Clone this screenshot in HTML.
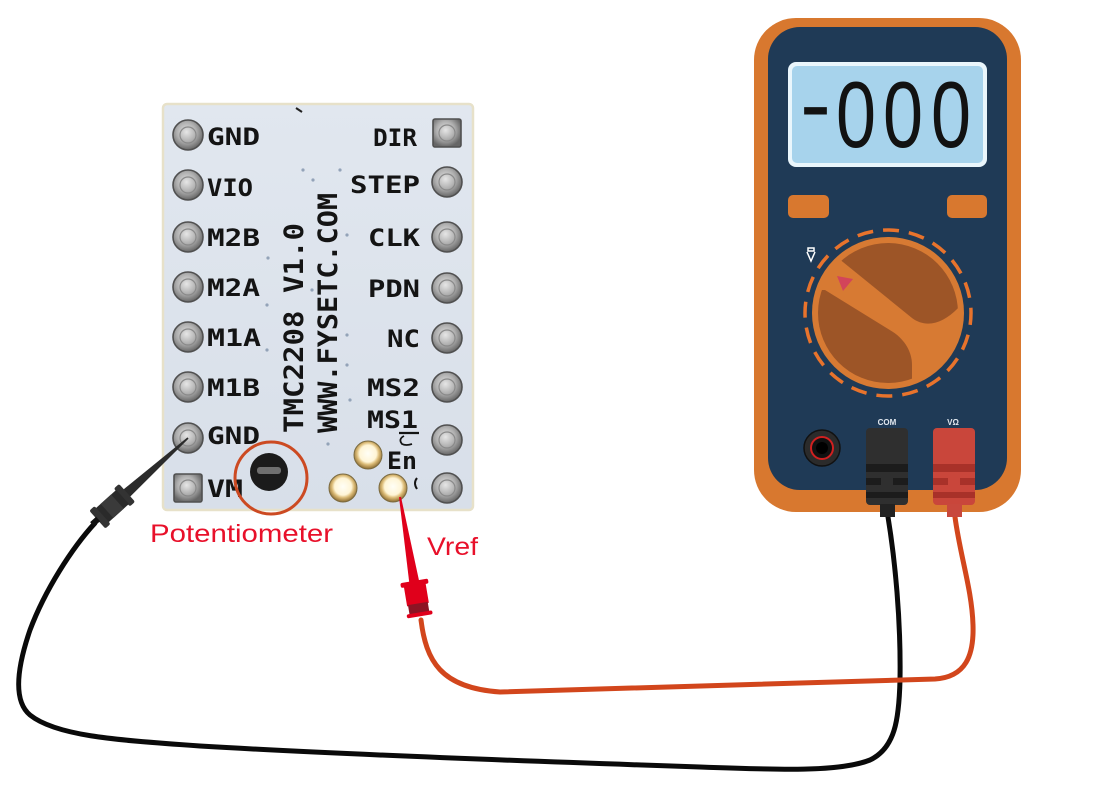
<!DOCTYPE html>
<html>
<head>
<meta charset="utf-8">
<style>
  html,body{margin:0;padding:0;background:#ffffff;}
  svg{display:block;}
  .silk{font-family:"DejaVu Sans Mono","Liberation Mono",monospace;font-weight:bold;fill:#141414;}
  .lbl{font-family:"Liberation Sans",sans-serif;fill:#e8102a;}
  .lcd{font-family:"Liberation Sans",sans-serif;fill:#121212;}
</style>
</head>
<body>
<svg width="1098" height="788" viewBox="0 0 1098 788" xmlns="http://www.w3.org/2000/svg">
  <defs>
    <radialGradient id="sv" cx="45%" cy="40%" r="60%">
      <stop offset="0" stop-color="#e6e6e6"/>
      <stop offset="0.55" stop-color="#aeaeae"/>
      <stop offset="1" stop-color="#666666"/>
    </radialGradient>
    <radialGradient id="gd" cx="50%" cy="45%" r="55%">
      <stop offset="0" stop-color="#fffef6"/>
      <stop offset="0.55" stop-color="#fff5d6"/>
      <stop offset="0.72" stop-color="#dcbc78"/>
      <stop offset="1" stop-color="#8a6a30"/>
    </radialGradient>
    <linearGradient id="brd" x1="0" y1="0" x2="0" y2="1">
      <stop offset="0" stop-color="#e1e7ef"/>
      <stop offset="1" stop-color="#d8dfe9"/>
    </linearGradient>
    <clipPath id="kc"><circle cx="888" cy="313" r="70"/></clipPath>
  </defs>

  <!-- ============ WIRES ============ -->
  <path d="M95,523 C72,548 45,590 30,630 C18,665 12,700 30,715 C55,735 110,740 200,746 C350,755 550,762 700,767 C780,770 840,772 870,760 C895,748 899,720 900,680 C901,620 895,560 888,517"
        fill="none" stroke="#0a0a0a" stroke-width="5" stroke-linecap="round"/>
  <path d="M421,620 C426,660 440,688 500,692 L935,679 C966,677 974,655 973,625 C972,590 960,555 955,517"
        fill="none" stroke="#d2461c" stroke-width="5" stroke-linecap="round"/>

  <!-- ============ BOARD ============ -->
  <rect x="163" y="104" width="310" height="406" rx="4" fill="url(#brd)" stroke="#e7e1c9" stroke-width="2.5"/>

  <!-- vias -->
  <g fill="#93a3b8">
    <circle cx="303" cy="170" r="1.6"/><circle cx="313" cy="180" r="1.6"/>
    <circle cx="340" cy="170" r="1.6"/><circle cx="268" cy="258" r="1.6"/>
    <circle cx="347" cy="235" r="1.6"/><circle cx="267" cy="305" r="1.6"/>
    <circle cx="347" cy="335" r="1.6"/><circle cx="267" cy="350" r="1.6"/>
    <circle cx="347" cy="365" r="1.6"/><circle cx="350" cy="400" r="1.6"/>
    <circle cx="312" cy="290" r="1.6"/><circle cx="328" cy="444" r="1.6"/>
  </g>
  <path d="M296,108 l6,4" stroke="#222" stroke-width="2"/>

  <!-- left pins -->
  <g stroke="#505050" stroke-width="1.6">
    <circle cx="188" cy="135" r="15" fill="url(#sv)"/>
    <circle cx="188" cy="185" r="15" fill="url(#sv)"/>
    <circle cx="188" cy="237" r="15" fill="url(#sv)"/>
    <circle cx="188" cy="287" r="15" fill="url(#sv)"/>
    <circle cx="188" cy="337" r="15" fill="url(#sv)"/>
    <circle cx="188" cy="387" r="15" fill="url(#sv)"/>
    <circle cx="188" cy="438" r="15" fill="url(#sv)"/>
    <rect x="174" y="474" width="28" height="28" rx="2" fill="url(#sv)"/>
  </g>
  <!-- right pins -->
  <g stroke="#505050" stroke-width="1.6">
    <rect x="433" y="119" width="28" height="28" rx="2" fill="url(#sv)"/>
    <circle cx="447" cy="182" r="15" fill="url(#sv)"/>
    <circle cx="447" cy="237" r="15" fill="url(#sv)"/>
    <circle cx="447" cy="288" r="15" fill="url(#sv)"/>
    <circle cx="447" cy="338" r="15" fill="url(#sv)"/>
    <circle cx="447" cy="387" r="15" fill="url(#sv)"/>
    <circle cx="447" cy="440" r="15" fill="url(#sv)"/>
    <circle cx="447" cy="488" r="15" fill="url(#sv)"/>
  </g>
  <g fill="none" stroke="#8a8a8a" stroke-width="1.2">
    <circle cx="188" cy="135" r="8"/><circle cx="188" cy="185" r="8"/>
    <circle cx="188" cy="237" r="8"/><circle cx="188" cy="287" r="8"/>
    <circle cx="188" cy="337" r="8"/><circle cx="188" cy="387" r="8"/>
    <circle cx="188" cy="438" r="8"/><circle cx="188" cy="488" r="8"/>
    <circle cx="447" cy="133" r="8"/><circle cx="447" cy="182" r="8"/>
    <circle cx="447" cy="237" r="8"/><circle cx="447" cy="288" r="8"/>
    <circle cx="447" cy="338" r="8"/><circle cx="447" cy="387" r="8"/>
    <circle cx="447" cy="440" r="8"/><circle cx="447" cy="488" r="8"/>
  </g>

  <!-- left labels -->
  <g class="silk" font-size="24">
    <text x="207" y="145" textLength="53" lengthAdjust="spacingAndGlyphs">GND</text>
    <text x="207" y="196" textLength="46" lengthAdjust="spacingAndGlyphs">VIO</text>
    <text x="207" y="246" textLength="53" lengthAdjust="spacingAndGlyphs">M2B</text>
    <text x="207" y="296" textLength="53" lengthAdjust="spacingAndGlyphs">M2A</text>
    <text x="207" y="346" textLength="54" lengthAdjust="spacingAndGlyphs">M1A</text>
    <text x="207" y="396" textLength="53" lengthAdjust="spacingAndGlyphs">M1B</text>
    <text x="207" y="444" textLength="53" lengthAdjust="spacingAndGlyphs">GND</text>
    <text x="207" y="497" textLength="36" lengthAdjust="spacingAndGlyphs">VM</text>
  </g>
  <!-- right labels -->
  <g class="silk" font-size="24">
    <text x="373" y="146" textLength="44" lengthAdjust="spacingAndGlyphs">DIR</text>
    <text x="350" y="193" textLength="70" lengthAdjust="spacingAndGlyphs">STEP</text>
    <text x="368" y="246" textLength="52" lengthAdjust="spacingAndGlyphs">CLK</text>
    <text x="368" y="297" textLength="52" lengthAdjust="spacingAndGlyphs">PDN</text>
    <text x="387" y="347" textLength="33" lengthAdjust="spacingAndGlyphs">NC</text>
    <text x="367" y="396" textLength="53" lengthAdjust="spacingAndGlyphs">MS2</text>
    <text x="367" y="428" textLength="51" lengthAdjust="spacingAndGlyphs">MS1</text>
    <text x="387" y="469" textLength="30" lengthAdjust="spacingAndGlyphs">En</text>
  </g>
  <path d="M399,433 L419,433" stroke="#141414" stroke-width="2.2"/>
  <path d="M404,436 q-6,3 -2,8 q4,2 10,0" fill="none" stroke="#141414" stroke-width="1.8"/>
  <path d="M417,478 q-4,5 0,11" fill="none" stroke="#141414" stroke-width="2"/>

  <!-- vertical texts -->
  <text class="silk" font-size="27" transform="translate(303,433) rotate(-90)" textLength="210" lengthAdjust="spacingAndGlyphs">TMC2208 V1.0</text>
  <text class="silk" font-size="27" transform="translate(337,433) rotate(-90)" textLength="240" lengthAdjust="spacingAndGlyphs">WWW.FYSETC.COM</text>

  <!-- gold pads -->
  <g stroke="#7a6a40" stroke-width="1">
    <circle cx="368" cy="455" r="14" fill="url(#gd)"/>
    <circle cx="343" cy="488" r="14" fill="url(#gd)"/>
    <circle cx="393" cy="488" r="14" fill="url(#gd)"/>
  </g>

  <!-- potentiometer -->
  <circle cx="269" cy="472" r="19" fill="#1b1b1b"/>
  <rect x="257" y="467" width="24" height="7" rx="3" fill="#6f6f6f"/>
  <circle cx="271" cy="478" r="36" fill="none" stroke="#cc4a22" stroke-width="3"/>

  <!-- ============ BLACK PROBE ============ -->
  <g transform="translate(188,438) rotate(138)">
    <polygon points="0,-0.8 0,0.8 84,5 84,-5" fill="#2b2b2b"/>
    <rect x="82" y="-12" width="7" height="24" rx="2" fill="#333"/>
    <rect x="88" y="-9.5" width="30" height="19" fill="#2a2a2a"/>
    <rect x="95" y="-9.5" width="14" height="19" fill="#3a3a3a"/>
    <rect x="115" y="-12" width="7" height="24" rx="2" fill="#333"/>
    <rect x="121" y="-3" width="8" height="6" fill="#111"/>
  </g>

  <!-- ============ RED PROBE ============ -->
  <g transform="translate(400,497) rotate(80.5)">
    <polygon points="0,-1 0,1 86,5 86,-5" fill="#e0001b"/>
    <rect x="85" y="-14" width="5" height="28" rx="2" fill="#e0001b"/>
    <rect x="89" y="-11" width="20" height="22" fill="#e0001b"/>
    <rect x="108" y="-10" width="12" height="20" fill="#8c1424"/>
    <rect x="117" y="-13" width="4" height="26" rx="2" fill="#e0001b"/>
  </g>

  <!-- labels -->
  <text class="lbl" x="150" y="542" font-size="25" textLength="183" lengthAdjust="spacingAndGlyphs">Potentiometer</text>
  <text class="lbl" x="427" y="555" font-size="25" textLength="51" lengthAdjust="spacingAndGlyphs">Vref</text>

  <!-- ============ MULTIMETER ============ -->
  <rect x="754" y="18" width="267" height="494" rx="42" fill="#d8782f"/>
  <rect x="768" y="27" width="239" height="463" rx="32" fill="#1f3a56"/>

  <!-- LCD -->
  <rect x="788" y="62" width="199" height="105" rx="8" fill="#eaf6fc"/>
  <rect x="792" y="66" width="191" height="97" rx="5" fill="#a7d3ec"/>
  <text class="lcd" x="800" y="136" font-size="94" textLength="31" lengthAdjust="spacingAndGlyphs">-</text>
  <text class="lcd" x="836" y="147" font-size="94" textLength="40" lengthAdjust="spacingAndGlyphs">0</text>
  <text class="lcd" x="883" y="147" font-size="94" textLength="40" lengthAdjust="spacingAndGlyphs">0</text>
  <text class="lcd" x="931" y="147" font-size="94" textLength="40" lengthAdjust="spacingAndGlyphs">0</text>

  <!-- buttons -->
  <rect x="788" y="195" width="41" height="23" rx="5" fill="#d8782f"/>
  <rect x="947" y="195" width="40" height="23" rx="5" fill="#d8782f"/>

  <!-- dial -->
  <circle cx="888" cy="313" r="83" fill="none" stroke="#e8732c" stroke-width="3.5" stroke-dasharray="16 10" stroke-dashoffset="4"/>
  <circle cx="888" cy="313" r="76" fill="#d77a33"/>
  <g clip-path="url(#kc)" fill="#9d5527">
    <path d="M838,258 L912,318 C928,330 948,322 965,300 L965,225 L838,225 Z"/>
    <path d="M825,290 L893,332 C905,340 912,352 912,365 L912,400 L800,400 L800,290 Z"/>
  </g>
  <polygon points="837,276 853,279 843,291" fill="#d2455a"/>
  <!-- small icon -->
  <path d="M807,252 l4,9 l4,-9 M808,248 h6 v3 h-6 z" fill="none" stroke="#ffffff" stroke-width="1.5"/>

  <!-- jack -->
  <circle cx="822" cy="448" r="18" fill="#2b2b2b" stroke="#111" stroke-width="1.5"/>
  <circle cx="822" cy="448" r="11" fill="#111" stroke="#d02020" stroke-width="2"/>
  <circle cx="822" cy="448" r="6" fill="#000"/>

  <!-- port labels -->
  <text x="887" y="425" font-family="Liberation Sans, sans-serif" font-weight="bold" font-size="8" fill="#e2e8ef" text-anchor="middle">COM</text>
  <text x="953" y="425" font-family="Liberation Sans, sans-serif" font-weight="bold" font-size="8" fill="#e2e8ef" text-anchor="middle">VΩ</text>

  <!-- COM plug -->
  <rect x="866" y="428" width="42" height="77" rx="4" fill="#2f2f2f"/>
  <rect x="866" y="464" width="42" height="8" fill="#1c1c1c"/>
  <rect x="866" y="478" width="15" height="7" fill="#1c1c1c"/>
  <rect x="893" y="478" width="15" height="7" fill="#1c1c1c"/>
  <rect x="866" y="492" width="42" height="6" fill="#1c1c1c"/>
  <rect x="880" y="504" width="15" height="13" fill="#222"/>

  <!-- V plug -->
  <rect x="933" y="428" width="42" height="77" rx="4" fill="#c9463b"/>
  <rect x="933" y="464" width="42" height="8" fill="#a83129"/>
  <rect x="933" y="478" width="15" height="7" fill="#a83129"/>
  <rect x="960" y="478" width="15" height="7" fill="#a83129"/>
  <rect x="933" y="492" width="42" height="6" fill="#a83129"/>
  <rect x="947" y="504" width="15" height="13" fill="#c8483d"/>
</svg>
</body>
</html>
